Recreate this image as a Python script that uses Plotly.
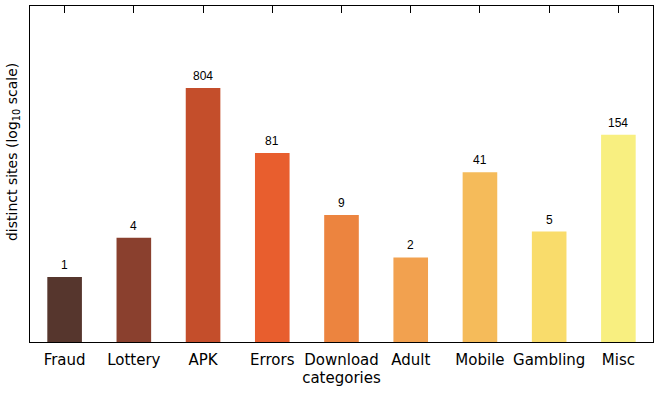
import math
import plotly.graph_objects as go

categories = ["Fraud", "Lottery", "APK", "Errors", "Download", "Adult", "Mobile", "Gambling", "Misc"]
sites = [1, 4, 804, 81, 9, 2, 41, 5, 154]
colors = ["#56362d", "#8a402e", "#c44e2b", "#e85e2e", "#ec843f", "#f2a14f", "#f5bb5a", "#f9dc6b", "#f8ef80"]

fig = go.Figure()
fig.add_trace(go.Bar(x=categories, y=sites, marker=dict(color=colors, line=dict(width=0)),
                     width=0.5, hoverinfo="x+y"))
# invisible trace to drive the top (mirrored) tick axis
fig.add_trace(go.Scatter(x=categories, y=sites, xaxis="x2", yaxis="y", mode="markers",
                         marker=dict(opacity=0, size=1), hoverinfo="skip", showlegend=False))

for c, v in zip(categories, sites):
    fig.add_annotation(x=c, y=math.log10(v), xref="x", yref="y", text=str(v), showarrow=False,
                       yanchor="bottom", yshift=3,
                       font=dict(family="Liberation Sans, Arial", size=12, color="#000"))

# y-axis title placed as annotation so it can sit where the reference has it
fig.add_annotation(xref="paper", yref="paper", x=-0.0275, y=0.565,
                   text="distinct sites (log<sub>10</sub> scale)", textangle=-90,
                   showarrow=False, xanchor="center", yanchor="middle",
                   font=dict(family="DejaVu Sans", size=14, color="#000"))

fig.update_layout(
    width=660, height=394,
    margin=dict(l=30, r=7, t=6, b=52, autoexpand=False),
    plot_bgcolor="rgba(0,0,0,0)", paper_bgcolor="white",
    showlegend=False,
    font=dict(family="DejaVu Sans", size=15, color="#000"),
    xaxis=dict(type="category", categoryarray=categories, range=[-0.5, 8.5],
               showline=True, linecolor="black", linewidth=1, mirror=True,
               ticks="", showgrid=False, zeroline=False, automargin=False,
               ticklabelstandoff=4,
               tickfont=dict(family="DejaVu Sans", size=15, color="#000"),
               title=dict(text="categories", standoff=0,
                          font=dict(family="DejaVu Sans", size=15, color="#000"))),
    xaxis2=dict(type="category", categoryarray=categories, range=[-0.5, 8.5],
                overlaying="x", side="top", anchor="y", ticks="inside", ticklen=7,
                tickmode="array", tickvals=categories, layer="above traces",
                tickwidth=1, tickcolor="black", showticklabels=False,
                showgrid=False, zeroline=False, showline=True, linecolor="black",
                automargin=False),
    yaxis=dict(type="log", range=[-1, 4.168], showticklabels=False, ticks="",
               showgrid=False, zeroline=False, automargin=False,
               showline=True, linecolor="black", linewidth=1, mirror=True),
)

fig.write_html("out.html", config={"displayModeBar": False},
               post_script="document.body.style.margin='0';")
